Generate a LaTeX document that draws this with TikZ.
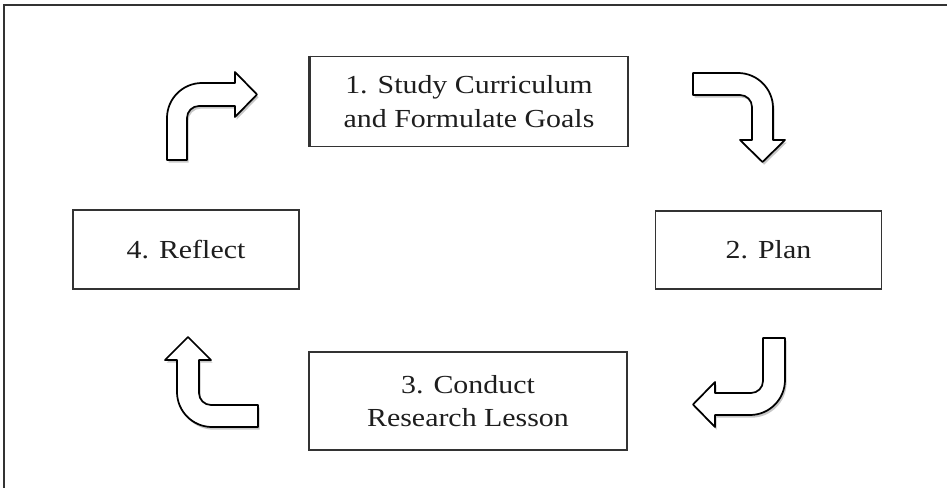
\documentclass[tikz,border=0pt]{standalone}
\usepackage{fontspec}
\setmainfont[FakeStretch=1.15]{Liberation Serif}
\usetikzlibrary{shadows}
\definecolor{boxline}{HTML}{333333}
\definecolor{txt}{HTML}{1e1e1e}
\tikzset{
  box/.style={draw=boxline, line width=0.9pt, fill=white, text=txt, align=center,
    font=\fontsize{19.5}{25}\selectfont, inner sep=0pt},
  bent/.style={draw=black, line width=1.3pt, fill=white, line join=round,
    drop shadow={shadow xshift=1.2pt, shadow yshift=-2pt, opacity=0.22, fill=black}},
  frameline/.style={line width=1.5pt}
}
\begin{document}
\begin{tikzpicture}[x=0.75pt,y=-0.75pt]
\useasboundingbox (0,0) rectangle (947,488);
\fill[white] (0,0) rectangle (947,488);
% outer frame (top and left only)
\draw[frameline, draw=black!80] (3.5,488) -- (3.5,5.5) -- (947,5.5);
% boxes
\node[box, minimum width=238.5pt, minimum height=68pt] (study) at (469,101.5) {1. Study Curriculum\\and Formulate Goals};
\draw[line width=2pt, draw=boxline] (study.north west) -- (study.south west);
\node[box, minimum width=170pt, minimum height=58.5pt] (plan) at (768.5,250) {2. Plan};
\node[box, minimum width=238.5pt, minimum height=73.5pt] (conduct) at (468,401) {3. Conduct\\Research Lesson};
\node[box, minimum width=169.5pt, minimum height=59.25pt] (reflect) at (186,249.5) {4. Reflect};
% bent arrows
\draw[bent] (167,160) -- (167,118) .. controls (167,98.7) and (182.7,83) .. (202,83) -- (235,83) -- (235,72) -- (257,94.5) -- (235,117) -- (235,106) -- (199,106) .. controls (192.4,106) and (187,111.4) .. (187,118) -- (187,160) -- cycle;
\draw[bent] (693,73) -- (738,73) .. controls (757.3,73) and (773,88.7) .. (773,108) -- (773,140) -- (785,140) -- (762.5,162) -- (740,140) -- (752,140) -- (752,107) .. controls (752,100.4) and (746.6,95) .. (740,95) -- (693,95) -- cycle;
\draw[bent] (763,338) -- (785,338) -- (785,380) .. controls (785,399.3) and (769.3,415) .. (750,415) -- (715,415) -- (715,427) -- (693,404.5) -- (715,382) -- (715,393) -- (751,393) .. controls (757.6,393) and (763,387.6) .. (763,381) -- cycle;
\draw[bent] (258,405) -- (258,427) -- (212,427) .. controls (192.7,427) and (177,411.3) .. (177,392) -- (177,360) -- (165,360) -- (188,337) -- (211,360) -- (199,360) -- (199,393) .. controls (199,399.6) and (204.4,405) .. (211,405) -- cycle;
\end{tikzpicture}
\end{document}
